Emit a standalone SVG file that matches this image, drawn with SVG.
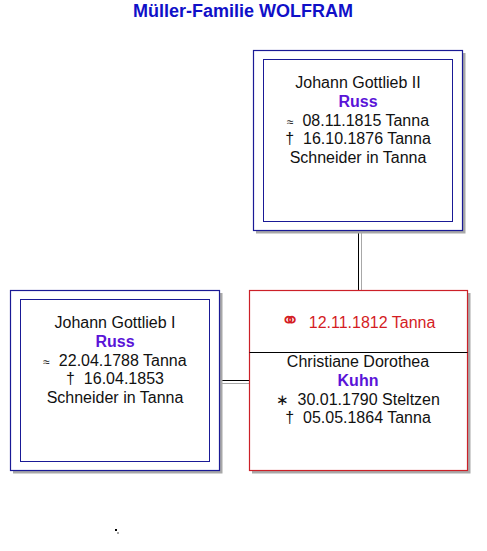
<svg xmlns="http://www.w3.org/2000/svg" width="487" height="551" viewBox="0 0 487 551">
<style>
.shadow{fill:#a8a8a8;stroke:none}
.outer{fill:#fff;stroke:#1a1a96;stroke-width:1.2}
.inner{fill:none;stroke:#1a1a96;stroke-width:1}
.redbox{fill:#fff;stroke:#cc2028;stroke-width:1.2}
text{font-family:"Liberation Sans",Arial,sans-serif;font-size:16px;fill:#111;text-anchor:middle;white-space:pre}
.title{font-size:18px;font-weight:bold;fill:#1010c8}
.name{font-weight:bold;fill:#5a14d8}
.red{fill:#d41c24}
.approx{font-size:12px}
.dag{font-size:16px}
.ring{font-family:"DejaVu Sans",sans-serif;font-size:23px}
.star{font-family:"DejaVu Sans",sans-serif;font-size:15px}
.conn{stroke:#000;stroke-width:1;fill:none}
.connsh{stroke:#a8a8a8;stroke-width:1;fill:none}
</style>
<rect width="487" height="551" fill="#fff"/>
<text class="title" x="243" y="17">Müller-Familie WOLFRAM</text>
<g id="connectors">
<line class="connsh" x1="361.5" y1="233" x2="361.5" y2="290"/>
<line class="conn" x1="358.5" y1="230" x2="358.5" y2="290"/>
<line class="connsh" x1="222" y1="383.5" x2="249" y2="383.5"/>
<line class="conn" x1="219" y1="380.5" x2="249" y2="380.5"/>
</g>
<g id="node-johann-gottlieb-ii">
<rect class="shadow" x="256" y="53" width="209.5" height="180.5"/>
<rect class="outer" x="253.5" y="50.5" width="209" height="180"/>
<rect class="inner" x="263.5" y="59.5" width="189" height="162"/>
<text x="358" y="88">Johann Gottlieb II</text>
<text class="name" x="358" y="107">Russ</text>
<text x="358" y="126" xml:space="preserve"><tspan class="approx">≈</tspan>&#160; 08.11.1815 Tanna</text>
<text x="358" y="144" xml:space="preserve"><tspan class="dag">†</tspan>&#160; 16.10.1876 Tanna</text>
<text x="358" y="163">Schneider in Tanna</text>
</g>
<g id="node-johann-gottlieb-i">
<rect class="shadow" x="13" y="293" width="209.5" height="180.5"/>
<rect class="outer" x="10.5" y="290.5" width="209" height="180"/>
<rect class="inner" x="20.5" y="299.5" width="189" height="162"/>
<text x="115" y="328">Johann Gottlieb I</text>
<text class="name" x="115" y="347">Russ</text>
<text x="115" y="366" xml:space="preserve"><tspan class="approx">≈</tspan>&#160; 22.04.1788 Tanna</text>
<text x="115" y="384" xml:space="preserve"><tspan class="dag">†</tspan>&#160; 16.04.1853</text>
<text x="115" y="403">Schneider in Tanna</text>
</g>
<g id="node-christiane-dorothea">
<rect class="shadow" x="252" y="293" width="218.5" height="180.5"/>
<rect class="redbox" x="249.5" y="290.5" width="218" height="180"/>
<line x1="249.5" y1="352.5" x2="467.5" y2="352.5" stroke="#000" stroke-width="1"/>
<text class="red" x="358" y="328" xml:space="preserve"><tspan class="ring">⚭</tspan>&#160; 12.11.1812 Tanna</text>
<text x="358" y="367">Christiane Dorothea</text>
<text class="name" x="358" y="386">Kuhn</text>
<text x="358" y="405" xml:space="preserve"><tspan class="star">∗</tspan>&#160; 30.01.1790 Steltzen</text>
<text x="358" y="423" xml:space="preserve"><tspan class="dag">†</tspan>&#160; 05.05.1864 Tanna</text>
</g>
<rect x="117" y="532" width="2" height="2" fill="#a8a8a8"/>
<rect x="115" y="529" width="2" height="2" fill="#000"/>
</svg>
